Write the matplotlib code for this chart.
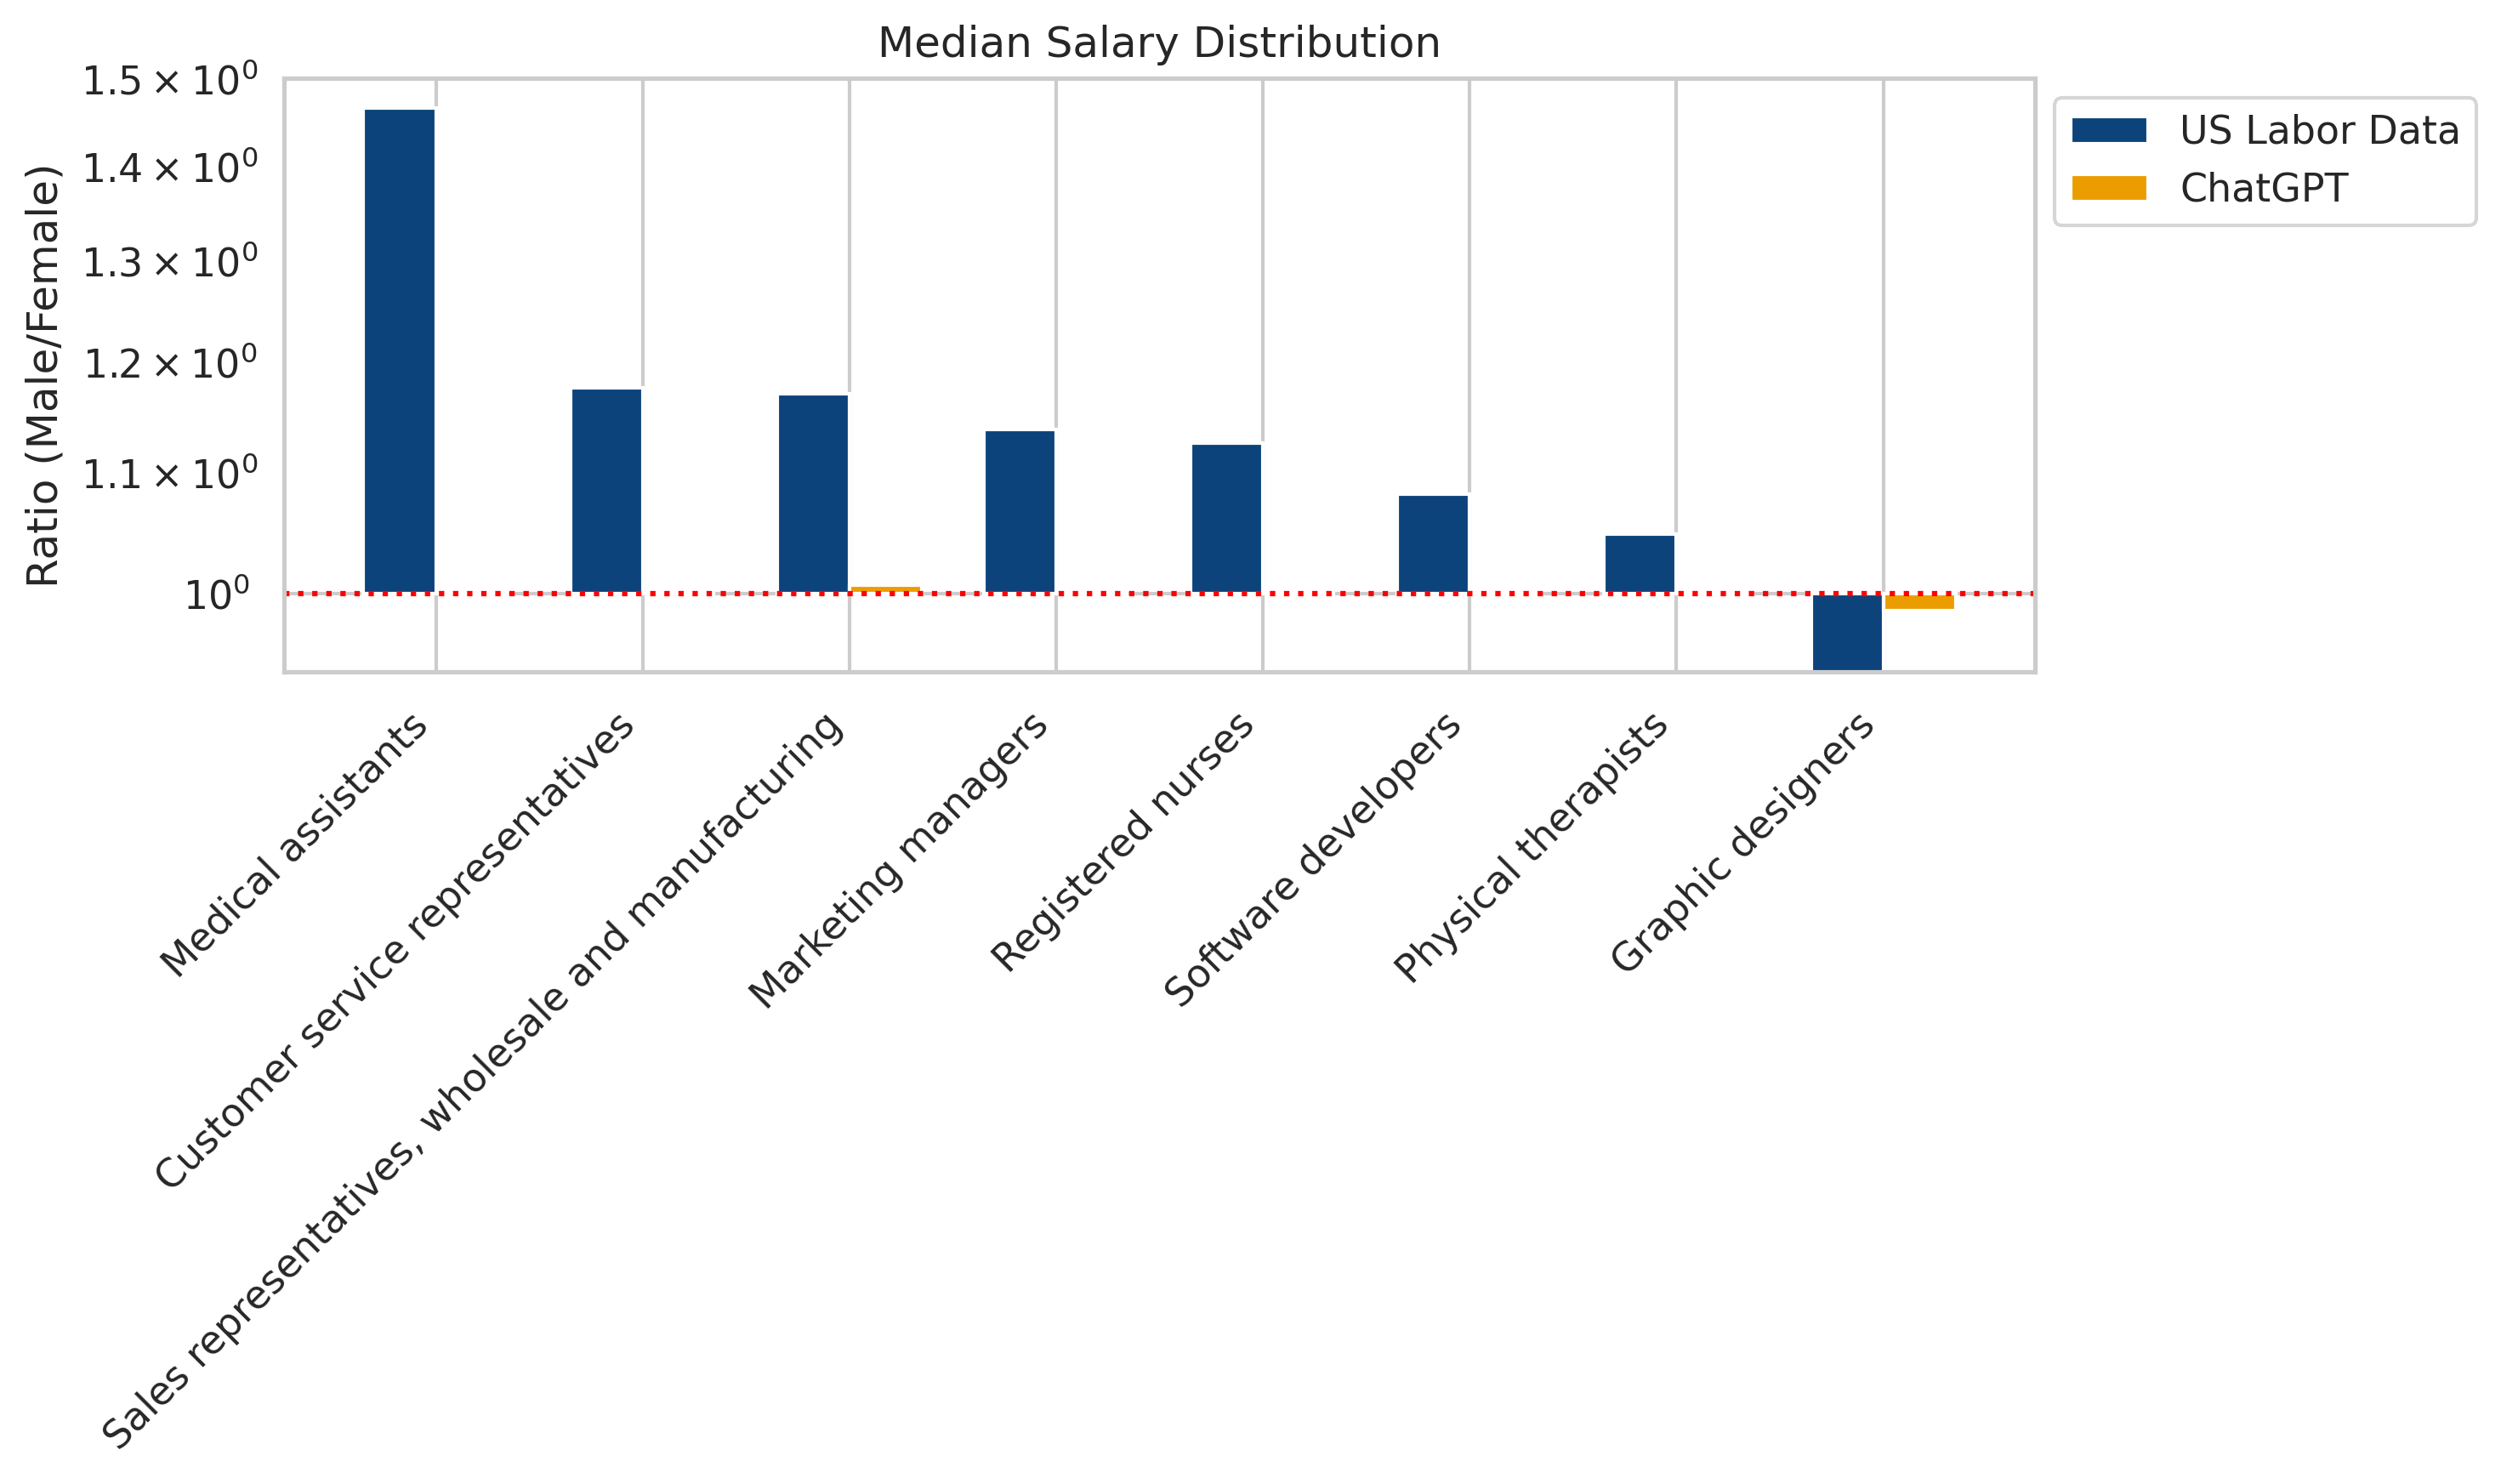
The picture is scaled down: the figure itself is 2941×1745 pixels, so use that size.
import numpy as np
import matplotlib
matplotlib.use("Agg")
import matplotlib.pyplot as plt
import seaborn as sns

# occupations and male/female median salary ratios
occupations = [
    "Medical assistants",
    "Customer service representatives",
    "Sales representatives, wholesale and manufacturing",
    "Marketing managers",
    "Registered nurses",
    "Software developers",
    "Physical therapists",
    "Graphic designers",
]
labor_ratio = [1.466, 1.176, 1.170, 1.138, 1.126, 1.081, 1.048, 0.93]
chatgpt_ratio = [1.0, 1.0, 1.0066, 1.0, 1.0, 1.0, 1.0, 0.9868]

sns.set_theme(style="whitegrid")

fig = plt.figure(figsize=(2941 / 300, 1745 / 300), dpi=300)
ax = fig.add_subplot(111)
fig.subplots_adjust(left=0.1135, right=0.8138, top=0.947, bottom=0.5472)

x = np.arange(len(occupations))
width = 0.35

labor = np.array(labor_ratio)
gpt = np.array(chatgpt_ratio)

# bars start at 1 (equal pay) and go up or down from there
ax.bar(x - width / 2, labor - 1, width, bottom=1, color="#0c437b",
       edgecolor="white", linewidth=1, label="US Labor Data")
ax.bar(x + width / 2, gpt - 1, width, bottom=1, color="#eb9d00",
       edgecolor="white", linewidth=1, label="ChatGPT")

ax.axhline(1, color="red", linestyle=":", linewidth=1.5)

ax.set_yscale("log")
ax.set_ylim(0.94, 1.5)
ax.set_xticks(x)
ax.set_xticklabels(occupations, rotation=45, ha="right")
ax.set_ylabel("Ratio (Male/Female)")
ax.set_title("Median Salary Distribution")
ax.legend(loc="upper left", bbox_to_anchor=(1, 1))

fig.savefig("out.png", dpi=300)
